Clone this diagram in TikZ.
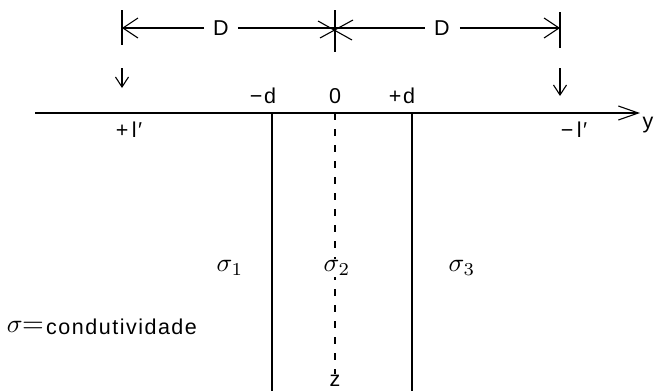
\documentclass[tikz,border=0pt]{standalone}
\usepackage{fontspec}
\setmainfont{Liberation Sans}[LetterSpace=7]
\usetikzlibrary{arrows.meta,calc}
\tikzset{
  lbl/.style={inner sep=1pt, font=\fontsize{21.5}{25}\selectfont},
  sig/.style={inner sep=0.5pt, font=\fontsize{10}{12}\selectfont, scale=2.6},
  eqs/.style={inner sep=0.5pt, font=\fontsize{10}{12}\selectfont, scale=2.8},
  bigbarb/.style={-{Straight Barb[length=15pt,width=20pt]}},
  axbarb/.style={-{Straight Barb[length=20pt,width=14pt]}},
  downbarb/.style={-{Straight Barb[length=10pt,width=13pt]}},
  ln/.style={line width=1.1pt}
}
\begin{document}
\begin{tikzpicture}[x=1pt,y=-1pt]
\useasboundingbox (0,0) rectangle (654,391);
% top dimension
\coordinate (tl1) at (122,10); \coordinate (tl2) at (122,45);
\coordinate (tr1) at (560,12); \coordinate (tr2) at (560,48);
\draw[ln] (tl1) -- (tl2);
\draw[ln] (tr1) -- (tr2);
\node[lbl] (D1) at (221,28) {D};
\node[lbl] (D2) at (442,28) {D};
\coordinate (c) at (335,28);
\coordinate (L) at (122,28);
\coordinate (R) at (560,28);
\draw[ln,bigbarb] ($(D1.west)+(-8,0)$) -- (L);
\draw[ln] ($(D1.east)+(8,0)$) -- (c) -- ($(D2.west)+(-8,0)$);
\draw[ln,bigbarb] ($(D2.east)+(9,0)$) -- (R);
% star
\coordinate (s1) at (335,10); \coordinate (s2) at (335,52);
\coordinate (s3) at (318,21); \coordinate (s4) at (352,40);
\coordinate (s5) at (320,38); \coordinate (s6) at (353,20);
\draw[ln] (s1) -- (s2);
\draw[ln] (s3) -- (s4);
\draw[ln] (s5) -- (s6);
% down arrows
\coordinate (da1) at (122,68); \coordinate (da2) at (122,88);
\coordinate (db1) at (560,68); \coordinate (db2) at (560,96);
\draw[ln,downbarb] (da1) -- (da2);
\draw[ln,downbarb] (db1) -- (db2);
% labels above axis
\node[lbl] (md) at (263,96) {−d};
\node[lbl] (zero) at (335,96) {0};
\node[lbl] (pd) at (402,96) {+d};
% axis
\coordinate (ax0) at (35,113);
\coordinate (ax1) at (640,113);
\draw[ln,axbarb] (ax0) -- (ax1);
\node[lbl] (ylab) at (648,125) {y};
\node[lbl] (pl) at (129,130) {+\,l′};
\node[lbl] (ml) at (574,130) {−\,l′};
% vertical lines
\coordinate (v1a) at (272,113); \coordinate (v1b) at (272,391);
\coordinate (v2a) at (412,113); \coordinate (v2b) at (412,391);
\draw[ln] (v1a) -- (v1b);
\draw[ln] (v2a) -- (v2b);
\node[lbl] (zlab) at (335,381) {z};
\coordinate (da) at (335,113);
\draw[ln,dash pattern=on 7pt off 9pt] (da) -- (zlab.north);
\node[sig,fill=white] (s2l) at (337,268) {$\sigma_2$};
\node[sig] (s1l) at (230,268) {$\sigma_1$};
\node[sig] (s3l) at (462,268) {$\sigma_3$};
\node[sig,anchor=west] (cs) at (5,327) {$\sigma$};
\node[eqs] (eq) at (33,327) {$=$};
\node[lbl,anchor=west] (cond) at (45,327) {condutividade};
\end{tikzpicture}
\end{document}
